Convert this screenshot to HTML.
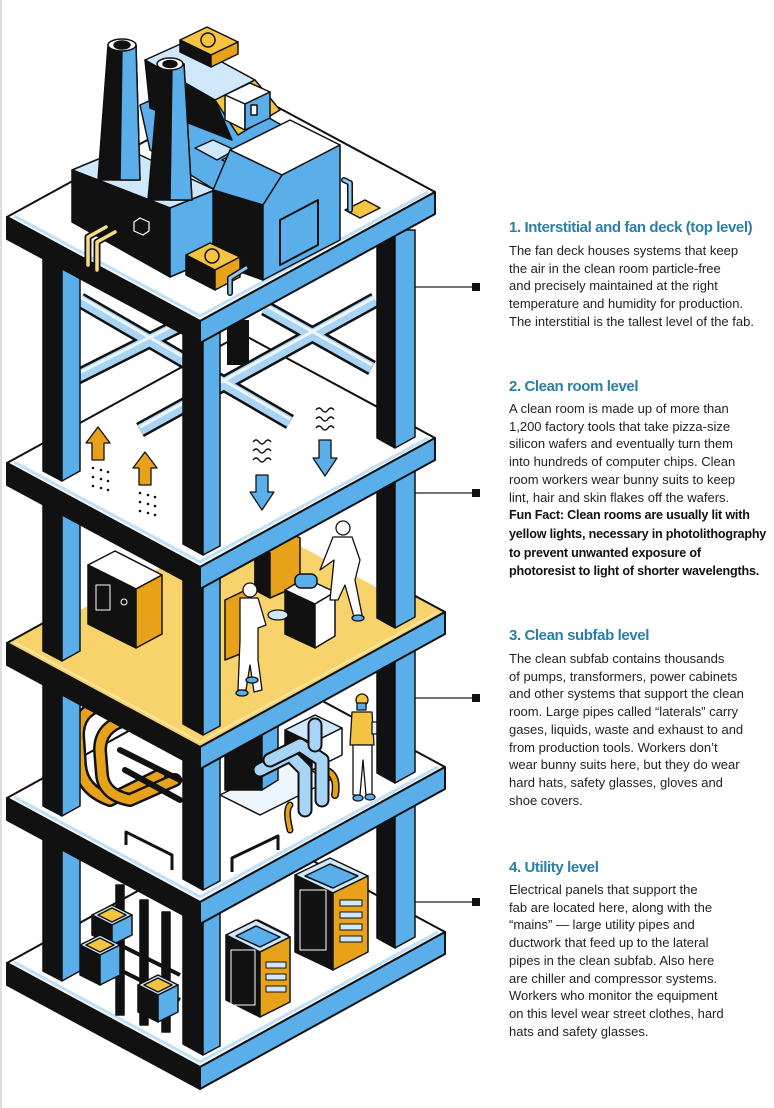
<!DOCTYPE html>
<html><head><meta charset="utf-8">
<style>
html,body{margin:0;padding:0;background:#fff;}
body{width:774px;height:1108px;position:relative;overflow:hidden;font-family:"Liberation Sans",sans-serif;}
svg{position:absolute;left:0;top:0;}
.h{position:absolute;left:509px;font-weight:bold;color:#2b7fa6;font-size:15px;letter-spacing:-0.4px;white-space:nowrap;}
.b{position:absolute;left:509px;font-size:13px;line-height:17.7px;color:#222;letter-spacing:0px;white-space:nowrap;}
.b b{font-weight:bold;color:#111;font-size:12.6px;letter-spacing:-0.2px;}
</style></head><body>
<svg width="774" height="1108" viewBox="0 0 774 1108" xmlns="http://www.w3.org/2000/svg" stroke-linejoin="round">
<rect x="0" y="0" width="2" height="1108" fill="#ddd"/>

<g stroke="#222" stroke-width="1.3">
<line x1="405" y1="287" x2="475" y2="287"/><line x1="405" y1="493" x2="475" y2="493"/>
<line x1="405" y1="698" x2="475" y2="698"/><line x1="405" y1="902" x2="475" y2="902"/>
</g>
<g fill="#111"><rect x="472" y="283" width="8" height="8"/><rect x="472" y="489" width="8" height="8"/><rect x="472" y="694" width="8" height="8"/><rect x="472" y="898" width="8" height="8"/></g>

<g stroke="#111" stroke-width="2">
<polygon points="7,963 252,828 445,932 200,1067" fill="#fff"/>
<polygon points="7,963 200,1067 200,1089 7,985" fill="#111"/>
<polygon points="200,1067 445,932 445,954 200,1089" fill="#5aaeea"/>
</g>
<polyline points="14,962 200,1062 438,932" fill="none" stroke="#bfe0f8" stroke-width="3"/>

<g stroke="#111" stroke-width="1.5">
<rect x="230" y="805" width="20" height="30" fill="#111"/>
<rect x="116" y="885" width="8" height="130" fill="#111"/>
<rect x="140" y="900" width="8" height="125" fill="#111"/>
<rect x="162" y="912" width="8" height="120" fill="#111"/>
<line x1="100" y1="935" x2="180" y2="975" stroke-width="4"/>
<line x1="100" y1="960" x2="180" y2="1000" stroke-width="4"/>
<polygon points="92,915 112,905 132,915 112,925" fill="#cfe8fb"/><polygon points="98,915 112,908 126,915 112,922" fill="#f5c542"/>
<polygon points="92,915 112,925 112,945 92,935" fill="#111"/><polygon points="112,925 132,915 132,935 112,945" fill="#5aaeea"/>
<polygon points="80,945 100,935 120,945 100,955" fill="#cfe8fb"/><polygon points="86,945 100,938 114,945 100,952" fill="#f5c542"/>
<polygon points="80,945 100,955 100,985 80,975" fill="#111"/><polygon points="100,955 120,945 120,975 100,985" fill="#5aaeea"/>
<polygon points="138,985 158,975 178,985 158,995" fill="#cfe8fb"/><polygon points="144,985 158,978 172,985 158,992" fill="#f5c542"/>
<polygon points="138,985 158,995 158,1022 138,1012" fill="#111"/><polygon points="158,995 178,985 178,1012 158,1022" fill="#5aaeea"/>
<polygon points="230,935 258,920 288,935 260,950" fill="#cfe8fb"/>
<polygon points="230,935 260,950 260,1000 230,985" fill="#111"/>
<polygon points="260,950 288,935 288,985 260,1000" fill="#e8a21a"/>
<polygon points="295,875 330,858 368,876 333,893" fill="#cfe8fb"/>
<polygon points="305,876 330,864 358,876 333,888" fill="#5aaeea"/>
<polygon points="295,875 333,893 333,970 295,952" fill="#111"/>
<polygon points="333,893 368,876 368,952 333,970" fill="#e8a21a"/>
<polygon points="226,935 256,920 290,937 260,952" fill="#cfe8fb"/>
<polygon points="236,936 256,926 280,937 260,947" fill="#5aaeea"/>
<polygon points="226,935 260,952 260,1017 226,1000" fill="#111"/>
<polygon points="260,952 290,937 290,1002 260,1017" fill="#e8a21a"/>
</g>
<g fill="#cfe8fb" stroke="#111" stroke-width="1">
<rect x="340" y="900" width="22" height="6"/><rect x="340" y="912" width="22" height="6"/><rect x="340" y="924" width="22" height="6"/><rect x="340" y="936" width="22" height="6"/>
<rect x="266" y="962" width="20" height="6"/><rect x="266" y="974" width="20" height="6"/><rect x="266" y="986" width="20" height="6"/>
</g>
<g stroke="#fff" stroke-width="1" fill="none">
<rect x="300" y="890" width="26" height="60"/><rect x="231" y="950" width="24" height="55"/>
</g>

<g stroke="#111" stroke-width="1.5">
<polygon points="43,805 62,805 62,981 43,971" fill="#111"/><polygon points="62,805 80,805 80,971 62,981" fill="#5aaeea"/>
<polygon points="377,805 395,805 395,948 377,938" fill="#111"/><polygon points="395,805 415,805 415,937 395,948" fill="#5aaeea"/>
<polygon points="183,805 203,805 203,1055 183,1044" fill="#111"/><polygon points="203,805 220,805 220,1046 203,1055" fill="#5aaeea"/>
</g>

<g stroke="#111" stroke-width="2">
<polygon points="7,798 252,663 445,767 200,902" fill="#fff"/>
<polygon points="7,798 200,902 200,924 7,820" fill="#111"/>
<polygon points="200,902 445,767 445,789 200,924" fill="#5aaeea"/>
</g>
<polyline points="14,797 200,897 438,767" fill="none" stroke="#bfe0f8" stroke-width="3"/>

<rect x="230" y="650" width="20" height="25" fill="#111"/>
<g fill="none" stroke="#111" stroke-width="3">
<polyline points="126,845 126,832 172,855 172,870"/><polyline points="232,872 232,858 278,836 278,850"/>
</g>
<g fill="none" stroke-linecap="round">
<path d="M100,705 Q78,712 78,735 L80,765 Q82,790 110,800 L160,775" stroke="#111" stroke-width="14"/>
<path d="M100,705 Q78,712 78,735 L80,765 Q82,790 110,800 L160,775" stroke="#e8a21a" stroke-width="9"/>
<path d="M125,720 Q100,727 100,750 L102,775 Q104,795 130,800 L175,780" stroke="#111" stroke-width="14"/>
<path d="M125,720 Q100,727 100,750 L102,775 Q104,795 130,800 L175,780" stroke="#e8a21a" stroke-width="9"/>
<line x1="120" y1="750" x2="180" y2="780" stroke="#111" stroke-width="6"/>
<line x1="125" y1="770" x2="180" y2="800" stroke="#111" stroke-width="6"/>
<path d="M310,770 Q340,765 335,795" stroke="#111" stroke-width="8"/>
<path d="M310,770 Q340,765 335,795" stroke="#e8a21a" stroke-width="5"/>
<path d="M290,805 Q285,810 290,830" stroke="#111" stroke-width="7"/>
<path d="M290,805 Q285,810 290,830" stroke="#e8a21a" stroke-width="4"/>
</g>
<g stroke="#111" stroke-width="1.5">
<polygon points="220,795 290,760 330,780 260,815" fill="#eef6fd"/>
<polygon points="285,730 315,715 342,728 312,743" fill="#cfe8fb"/>
<polygon points="285,730 312,743 312,770 285,757" fill="#111"/>
<polygon points="312,743 342,728 342,755 312,770" fill="#fff"/>
<polygon points="225,735 262,725 262,790 225,790" fill="#111"/>
<polygon points="262,725 278,718 278,780 262,790" fill="#5aaeea"/>
</g>
<g fill="none" stroke-linecap="round">
<path d="M260,770 L290,755 L305,770 L305,810" stroke="#111" stroke-width="15"/>
<path d="M260,770 L290,755 L305,770 L305,810" stroke="#a8d4f5" stroke-width="11"/>
<path d="M270,760 L300,745 L322,760 L322,800" stroke="#111" stroke-width="15"/>
<path d="M270,760 L300,745 L322,760 L322,800" stroke="#a8d4f5" stroke-width="11"/>
<path d="M315,745 L315,725" stroke="#111" stroke-width="15"/>
<path d="M315,745 L315,725" stroke="#a8d4f5" stroke-width="11"/>
</g>
<g stroke="#111" stroke-width="1.3">
<circle cx="362" cy="700" r="6" fill="#f5c542"/>
<rect x="357" y="703" width="9" height="7" fill="#5aaeea"/>
<polygon points="352,712 372,712 374,745 350,745" fill="#f5c542"/>
<polygon points="353,745 372,745 372,795 366,795 363,760 360,795 353,795" fill="#fff"/>
<rect x="372" y="722" width="12" height="12" fill="#eef6fd"/>
<ellipse cx="358" cy="798" rx="5" ry="3" fill="#5aaeea"/><ellipse cx="370" cy="797" rx="5" ry="3" fill="#5aaeea"/>
</g>

<g stroke="#111" stroke-width="1.5">
<polygon points="43,650 62,650 62,816 43,806" fill="#111"/><polygon points="62,650 80,650 80,806 62,816" fill="#5aaeea"/>
<polygon points="377,650 395,650 395,783 377,773" fill="#111"/><polygon points="395,650 415,650 415,772 395,783" fill="#5aaeea"/>
<polygon points="183,650 203,650 203,890 183,879" fill="#111"/><polygon points="203,650 220,650 220,881 203,890" fill="#5aaeea"/>
</g>

<g stroke="#111" stroke-width="2">
<polygon points="7,643 252,508 445,612 200,747" fill="#f8d36c"/>
<polygon points="7,643 200,747 200,769 7,665" fill="#111"/>
<polygon points="200,747 445,612 445,634 200,769" fill="#5aaeea"/>
</g>
<polyline points="14,642 200,742 438,612" fill="none" stroke="#fbe6a6" stroke-width="2"/>

<polygon points="60,560 252,470 400,545 400,600 252,520 80,610" fill="#fff"/>
<rect x="230" y="470" width="20" height="40" fill="#111"/>
<g stroke="#111" stroke-width="1.5">
<polygon points="255,545 285,530 300,538 300,585 270,598 255,590" fill="#e8a21a"/>
<polygon points="255,545 270,553 270,598 255,590" fill="#111"/>
<polygon points="225,600 250,588 250,650 225,660" fill="#e8a21a"/>
<polygon points="88,565 115,551 162,575 136,589" fill="#fff"/>
<polygon points="88,565 136,589 136,648 88,624" fill="#111"/>
<polygon points="136,589 162,575 162,634 136,648" fill="#e8a21a"/>
</g>
<rect x="96" y="585" width="14" height="25" fill="none" stroke="#fff" stroke-width="1"/>
<circle cx="124" cy="602" r="3" fill="none" stroke="#fff"/>
<g stroke="#111" stroke-width="1.5">
<polygon points="285,590 305,578 335,592 315,604" fill="#fff"/>
<polygon points="285,590 315,604 315,648 285,634" fill="#111"/>
<polygon points="315,604 335,592 335,636 315,648" fill="#fff"/>
<rect x="295" y="574" width="22" height="14" rx="6" fill="#5aaeea"/>
</g>
<g stroke="#111" stroke-width="1.3" fill="#fff">
<circle cx="250" cy="590" r="7"/>
<path d="M240,598 L258,598 L266,625 L258,628 L258,660 L262,690 L254,692 L250,665 L246,690 L238,690 L240,640 Z"/>
<ellipse cx="252" cy="680" rx="6" ry="3" fill="#5aaeea"/><ellipse cx="242" cy="693" rx="6" ry="3" fill="#5aaeea"/>
<ellipse cx="278" cy="615" rx="10" ry="5" fill="#cfe8fb"/>
<circle cx="343" cy="528" r="7"/>
<path d="M333,537 L352,537 L360,560 L355,580 L362,615 L354,617 L345,585 L338,600 L330,600 L334,560 L320,570 Z"/>
<ellipse cx="358" cy="618" rx="6" ry="3" fill="#5aaeea"/>
</g>

<g stroke="#111" stroke-width="1.5">
<polygon points="43,470 62,470 62,661 43,651" fill="#111"/><polygon points="62,470 80,470 80,651 62,661" fill="#5aaeea"/>
<polygon points="377,470 395,470 395,628 377,618" fill="#111"/><polygon points="395,470 415,470 415,617 395,628" fill="#5aaeea"/>
<polygon points="183,470 203,470 203,735 183,724" fill="#111"/><polygon points="203,470 220,470 220,726 203,735" fill="#5aaeea"/>
</g>

<g stroke="#111" stroke-width="2">
<polygon points="7,463 242,334 435,438 200,567" fill="#fff"/>
<polygon points="7,463 200,567 200,589 7,485" fill="#111"/>
<polygon points="200,567 435,438 435,460 200,589" fill="#5aaeea"/>
</g>
<polyline points="14,462 200,562 428,438" fill="none" stroke="#bfe0f8" stroke-width="3"/>

<rect x="227" y="320" width="22" height="45" fill="#111"/>
<g fill="none" stroke-linecap="butt">
<g stroke="#111" stroke-width="16">
<line x1="80" y1="300" x2="290" y2="422"/><line x1="265" y1="308" x2="372" y2="368"/>
<line x1="67" y1="382" x2="210" y2="310"/><line x1="140" y1="430" x2="375" y2="300"/>
</g>
<g stroke="#a8d4f5" stroke-width="11">
<line x1="80" y1="300" x2="290" y2="422"/><line x1="265" y1="308" x2="372" y2="368"/>
<line x1="67" y1="382" x2="210" y2="310"/><line x1="140" y1="430" x2="375" y2="300"/>
</g>
<g stroke="#eef6fd" stroke-width="3">
<line x1="80" y1="297" x2="290" y2="419"/><line x1="265" y1="305" x2="372" y2="365"/>
<line x1="67" y1="379" x2="210" y2="307"/><line x1="140" y1="427" x2="375" y2="297"/>
</g>
</g>
<g stroke="#111" stroke-width="1.3">
<polygon points="98,427 110,443 104,443 104,460 92,460 92,443 86,443" fill="#e8a21a"/>
<polygon points="145,452 157,468 151,468 151,485 139,485 139,468 133,468" fill="#e8a21a"/>
<polygon points="256,475 268,475 268,492 274,492 262,510 250,492 256,492" fill="#5aaeea"/>
<polygon points="319,440 331,440 331,458 337,458 325,476 313,458 319,458" fill="#5aaeea"/>
</g>
<g fill="#111">
<circle cx="93" cy="468" r="1.3"/><circle cx="101" cy="470" r="1.3"/><circle cx="108" cy="472" r="1.3"/>
<circle cx="93" cy="477" r="1.3"/><circle cx="101" cy="479" r="1.3"/><circle cx="108" cy="481" r="1.3"/>
<circle cx="93" cy="486" r="1.3"/><circle cx="101" cy="488" r="1.3"/><circle cx="108" cy="490" r="1.3"/>
<circle cx="140" cy="493" r="1.3"/><circle cx="148" cy="495" r="1.3"/><circle cx="155" cy="497" r="1.3"/>
<circle cx="140" cy="502" r="1.3"/><circle cx="148" cy="504" r="1.3"/><circle cx="155" cy="506" r="1.3"/>
<circle cx="140" cy="511" r="1.3"/><circle cx="148" cy="513" r="1.3"/><circle cx="155" cy="515" r="1.3"/>
</g>
<g fill="none" stroke="#111" stroke-width="1.4">
<path d="M253,442 q3,-4 6,0 t6,0 t6,0"/><path d="M253,451 q3,-4 6,0 t6,0 t6,0"/><path d="M253,460 q3,-4 6,0 t6,0 t6,0"/>
<path d="M316,410 q3,-4 6,0 t6,0 t6,0"/><path d="M316,419 q3,-4 6,0 t6,0 t6,0"/><path d="M316,428 q3,-4 6,0 t6,0 t6,0"/>
</g>

<g stroke="#111" stroke-width="1.5">
<polygon points="43,230 62,230 62,481 43,471" fill="#111"/><polygon points="62,230 80,230 80,471 62,481" fill="#5aaeea"/>
<polygon points="377,230 395,230 395,448 377,438" fill="#111"/><polygon points="395,230 415,230 415,437 395,448" fill="#5aaeea"/>
<polygon points="183,230 203,230 203,555 183,544" fill="#111"/><polygon points="203,230 220,230 220,546 203,555" fill="#5aaeea"/>
</g>

<g stroke="#111" stroke-width="2">
<polygon points="7,217 242,88 435,192 200,321" fill="#fff"/>
<polygon points="7,217 200,321 200,343 7,239" fill="#111"/>
<polygon points="200,321 435,192 435,214 200,343" fill="#5aaeea"/>
</g>
<polyline points="14,216 200,316 428,192" fill="none" stroke="#bfe0f8" stroke-width="3"/>

<g stroke="#111" stroke-width="1.5">
<polygon points="345,210 365,200 380,208 360,218" fill="#f5c542"/>
<polygon points="72,170 125,148 215,190 170,208" fill="#cfe8fb"/>
<polygon points="72,170 170,208 170,277 72,222" fill="#111"/>
<polygon points="170,208 215,190 215,258 170,277" fill="#5aaeea"/>
<polygon points="140,105 200,78 290,130 230,160 215,190 150,150" fill="#5aaeea"/>
<polygon points="195,148 213,140 235,150 217,160" fill="#cfe8fb"/>
<polygon points="222,160 240,150 260,160 242,170" fill="#cfe8fb"/>
<polygon points="230,150 290,120 340,145 282,175" fill="#fff"/>
<polygon points="213,190 230,150 282,175 263,205" fill="#5aaeea"/>
<polygon points="213,190 263,205 263,280 213,262" fill="#111"/>
<polygon points="263,205 282,175 340,145 340,240 263,280" fill="#5aaeea"/>
<polygon points="280,220 318,200 318,245 280,265" fill="#5aaeea" stroke-width="2"/>
<polygon points="145,60 185,42 255,80 215,100" fill="#cfe8fb"/>
<polygon points="145,60 215,100 232,140 150,108" fill="#111"/>
<polygon points="215,100 255,80 280,110 238,135" fill="#f5c542"/>
<polygon points="225,95 250,83 270,92 245,104" fill="#fff"/>
<polygon points="225,95 245,104 245,130 225,120" fill="#fff"/>
<polygon points="245,104 270,92 270,118 245,130" fill="#5aaeea"/>
<rect x="251" y="105" width="6" height="10" fill="#fff"/>
<polygon points="180,40 207,27 238,42 211,55" fill="#f5c542"/>
<polygon points="180,40 211,55 211,67 180,52" fill="#111"/>
<polygon points="211,55 238,42 238,54 211,67" fill="#e8a21a"/>
<circle cx="208" cy="40" r="7" fill="#f5c542"/>
<polygon points="186,255 210,243 240,257 215,270" fill="#f5c542"/>
<polygon points="186,255 215,270 215,290 186,275" fill="#111"/>
<polygon points="215,270 240,257 240,277 215,290" fill="#e8a21a"/>
<circle cx="212" cy="256" r="7" fill="#f5c542"/>
<polygon points="108,45 136,45 140,180 98,180" fill="#111"/>
<polygon points="122,45 136,45 140,180 120,180" fill="#5aaeea"/>
<ellipse cx="122" cy="45" rx="14" ry="6" fill="#fff"/><ellipse cx="122" cy="45" rx="8" ry="4" fill="#111"/>
<polygon points="160,64 184,64 192,200 148,200" fill="#111"/>
<polygon points="172,64 184,64 192,200 170,200" fill="#5aaeea"/>
<ellipse cx="170" cy="64" rx="13" ry="6" fill="#fff"/><ellipse cx="170" cy="64" rx="7" ry="3.5" fill="#111"/>
</g>
<g fill="none" stroke-linecap="round">
<path d="M88,265 L88,237 L106,227" stroke="#111" stroke-width="7"/>
<path d="M88,265 L88,237 L106,227" stroke="#f6dc8a" stroke-width="3.5"/>
<path d="M97,270 L97,242 L115,232" stroke="#111" stroke-width="7"/>
<path d="M97,270 L97,242 L115,232" stroke="#f6dc8a" stroke-width="3.5"/>
<path d="M230,293 L230,278 L246,268" stroke="#111" stroke-width="6"/>
<path d="M230,293 L230,278 L246,268" stroke="#8cc8f0" stroke-width="3"/>
<path d="M350,210 L350,183 L344,180" stroke="#111" stroke-width="6"/>
<path d="M350,210 L350,183 L344,180" stroke="#8cc8f0" stroke-width="3"/>
</g>
<polygon points="134,222 140,218 149,222 149,231 143,235 134,231" fill="none" stroke="#fff" stroke-width="1.2"/>
</svg>

<div class="h" style="top:219px;">1. Interstitial and fan deck (top level)</div>
<div class="b" style="top:242px;">The fan deck houses systems that keep<br>the air in the clean room particle-free<br>and precisely maintained at the right<br>temperature and humidity for production.<br>The interstitial is the tallest level of the fab.</div>

<div class="h" style="top:378px;">2. Clean room level</div>
<div class="b" style="top:400px;">A clean room is made up of more than<br>1,200 factory tools that take pizza-size<br>silicon wafers and eventually turn them<br>into hundreds of computer chips. Clean<br>room workers wear bunny suits to keep<br>lint, hair and skin flakes off the wafers.<br><b>Fun Fact: Clean rooms are usually lit with<br>yellow lights, necessary in photolithography<br>to prevent unwanted exposure of<br>photoresist to light of shorter wavelengths.</b></div>

<div class="h" style="top:627px;">3. Clean subfab level</div>
<div class="b" style="top:650px;">The clean subfab contains thousands<br>of pumps, transformers, power cabinets<br>and other systems that support the clean<br>room. Large pipes called “laterals” carry<br>gases, liquids, waste and exhaust to and<br>from production tools. Workers don’t<br>wear bunny suits here, but they do wear<br>hard hats, safety glasses, gloves and<br>shoe covers.</div>

<div class="h" style="top:859px;">4. Utility level</div>
<div class="b" style="top:881px;">Electrical panels that support the<br>fab are located here, along with the<br>“mains” — large utility pipes and<br>ductwork that feed up to the lateral<br>pipes in the clean subfab. Also here<br>are chiller and compressor systems.<br>Workers who monitor the equipment<br>on this level wear street clothes, hard<br>hats and safety glasses.</div>
</body></html>
